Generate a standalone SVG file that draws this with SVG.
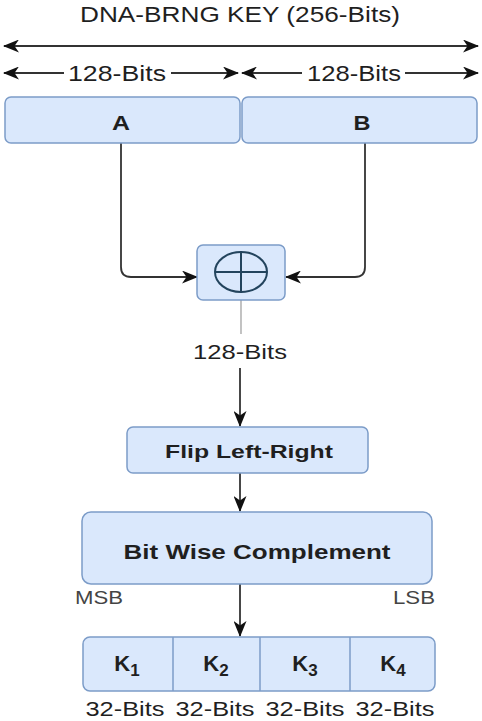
<svg xmlns="http://www.w3.org/2000/svg" width="482" height="721" viewBox="0 0 482 721">
  <style>
    .box { fill: #dae8fc; stroke: #7c9cc8; stroke-width: 1.5; }
    .lbl { font-family: "Liberation Sans", Arial, sans-serif; fill: #1f1f1f; text-anchor: middle; }
    .bold { font-weight: bold; }
    .wire { fill: none; stroke: #333; stroke-width: 1.8; }
    .thin { fill: none; stroke: #9a9a9a; stroke-width: 1.2; }
    .sep { stroke: #7c9cc8; stroke-width: 1.5; }
    .xor { fill: none; stroke: #23445d; stroke-width: 2; }
  </style>
  <defs>
    <marker id="arrow" viewBox="0 0 16 13" refX="15" refY="6.5" markerWidth="16" markerHeight="13" markerUnits="userSpaceOnUse" orient="auto-start-reverse">
      <path d="M0,0 L16,6.5 L0,13 L4.5,6.5 z" fill="#111"/>
    </marker>
  </defs>

  <rect width="482" height="721" fill="#ffffff"/>

  <!-- key width annotations -->
  <g id="key-span">
    <text class="lbl" x="240" y="22" font-size="22" textLength="320" lengthAdjust="spacingAndGlyphs">DNA-BRNG KEY (256-Bits)</text>
    <text class="lbl" x="117" y="81" font-size="22" textLength="98" lengthAdjust="spacingAndGlyphs">128-Bits</text>
    <text class="lbl" x="354" y="81" font-size="22" textLength="94" lengthAdjust="spacingAndGlyphs">128-Bits</text>
  </g>

  <!-- connectors -->
  <g id="connectors">
    <line class="wire" x1="4" y1="46" x2="478" y2="46" marker-start="url(#arrow)" marker-end="url(#arrow)"/>
    <line class="wire" x1="4" y1="73" x2="64" y2="73" marker-start="url(#arrow)"/>
    <line class="wire" x1="171" y1="73" x2="238" y2="73" marker-end="url(#arrow)"/>
    <line class="wire" x1="242" y1="73" x2="302" y2="73" marker-start="url(#arrow)"/>
    <line class="wire" x1="405" y1="73" x2="478" y2="73" marker-end="url(#arrow)"/>
    <path class="wire" d="M121,143 V267 Q121,277 131,277 H197" marker-end="url(#arrow)"/>
    <path class="wire" d="M365,143 V267 Q365,277 355,277 H286" marker-end="url(#arrow)"/>
    <line class="thin" x1="241" y1="300" x2="241" y2="334"/>
    <line class="wire" x1="240" y1="368" x2="240" y2="426" marker-end="url(#arrow)"/>
    <line class="wire" x1="240" y1="473" x2="240" y2="511" marker-end="url(#arrow)"/>
    <line class="wire" x1="240" y1="584" x2="240" y2="636" marker-end="url(#arrow)"/>
  </g>

  <g id="node-a">
    <rect class="box" x="5" y="97" width="235" height="46" rx="6"/>
    <text class="lbl bold" x="121" y="130" font-size="21" textLength="18" lengthAdjust="spacingAndGlyphs">A</text>
  </g>

  <g id="node-b">
    <rect class="box" x="242" y="97" width="235" height="46" rx="6"/>
    <text class="lbl bold" x="362" y="130" font-size="21" textLength="17" lengthAdjust="spacingAndGlyphs">B</text>
  </g>

  <g id="node-xor">
    <rect class="box" x="197" y="245" width="88" height="55" rx="6"/>
    <ellipse class="xor" cx="241" cy="272" rx="26" ry="20"/>
    <line class="xor" x1="215" y1="272" x2="267" y2="272"/>
    <line class="xor" x1="241" y1="252" x2="241" y2="292"/>
  </g>

  <text class="lbl" x="240" y="359" font-size="21" textLength="94" lengthAdjust="spacingAndGlyphs">128-Bits</text>

  <g id="node-flip">
    <rect class="box" x="127" y="427" width="241" height="46" rx="6"/>
    <text class="lbl bold" x="249" y="458" font-size="19" textLength="168" lengthAdjust="spacingAndGlyphs">Flip Left-Right</text>
  </g>

  <g id="node-complement">
    <rect class="box" x="82" y="512" width="350" height="72" rx="9"/>
    <text class="lbl bold" x="257" y="559" font-size="21" textLength="267" lengthAdjust="spacingAndGlyphs">Bit Wise Complement</text>
    <text class="lbl" x="99" y="604" font-size="18" textLength="48" lengthAdjust="spacingAndGlyphs" style="fill:#444">MSB</text>
    <text class="lbl" x="414" y="604" font-size="18" textLength="42" lengthAdjust="spacingAndGlyphs" style="fill:#444">LSB</text>
  </g>

  <g id="node-subkeys">
    <rect class="box" x="83" y="637" width="352" height="54" rx="7"/>
    <line class="sep" x1="173" y1="637" x2="173" y2="691"/>
    <line class="sep" x1="260" y1="637" x2="260" y2="691"/>
    <line class="sep" x1="350" y1="637" x2="350" y2="691"/>
    <text class="lbl bold" x="127" y="671" font-size="22">K<tspan font-size="17" dy="5">1</tspan></text>
    <text class="lbl bold" x="216" y="671" font-size="22">K<tspan font-size="17" dy="5">2</tspan></text>
    <text class="lbl bold" x="305" y="671" font-size="22">K<tspan font-size="17" dy="5">3</tspan></text>
    <text class="lbl bold" x="393" y="671" font-size="22">K<tspan font-size="17" dy="5">4</tspan></text>
    <text class="lbl" x="125" y="716" font-size="21" textLength="79" lengthAdjust="spacingAndGlyphs">32-Bits</text>
    <text class="lbl" x="215" y="716" font-size="21" textLength="79" lengthAdjust="spacingAndGlyphs">32-Bits</text>
    <text class="lbl" x="305" y="716" font-size="21" textLength="79" lengthAdjust="spacingAndGlyphs">32-Bits</text>
    <text class="lbl" x="395" y="716" font-size="21" textLength="79" lengthAdjust="spacingAndGlyphs">32-Bits</text>
  </g>
</svg>
